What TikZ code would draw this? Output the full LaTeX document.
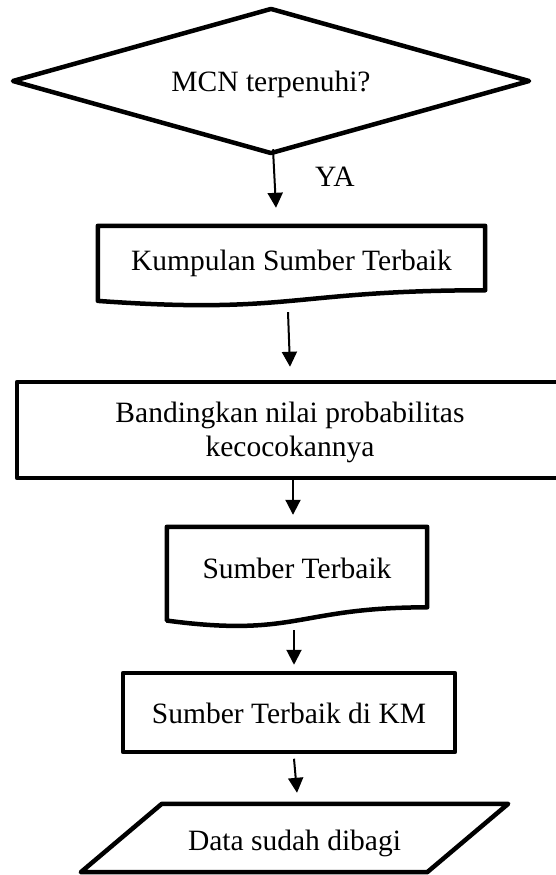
\documentclass[tikz,border=0pt]{standalone}
\usepackage{fontspec}
\setmainfont{Liberation Serif}
\usetikzlibrary{shapes.geometric,arrows.meta,calc}
\newcommand\flowfont{\fontsize{29.5}{34}\selectfont}
\begin{document}
\begin{tikzpicture}[x=1pt,y=-1pt,
  shp/.style={line width=4.5pt, line join=round},
  blk/.style={shp, draw, rectangle, inner sep=0pt, font=\flowfont, align=center},
  hold/.style={rectangle, inner sep=0pt, font=\flowfont, align=center},
  decision/.style={shp, draw, diamond, inner sep=0pt, font=\flowfont, shape aspect=3.5},
  arr/.style={line width=2pt, -{Triangle[length=15pt,width=15pt]}},
]
\useasboundingbox (0,0) rectangle (555,875);

% decision
\node[decision, minimum width=518pt, minimum height=146pt,
      text height=28pt, text depth=6pt] (mcn) at (271,81) {MCN terpenuhi?};
\node[font=\flowfont, inner sep=0pt, anchor=base west] (ya) at (315,186) {YA};

% document: collection of best sources
\node[hold, minimum width=387pt, minimum height=80pt,
      text height=14pt, text depth=6pt] (kum) at (291.5,266) {Kumpulan Sumber Terbaik};
\draw[shp] (kum.north west) -- (kum.north east)
  -- ($(kum.north east)!0.802!(kum.south east)$)
  .. controls ($(kum.north)!0.802!(kum.south)$) and ($(kum.north)!1.107!(kum.south)$)
  .. ($(kum.north west)!0.934!(kum.south west)$) -- cycle;

% process: compare probabilities
\node[blk, minimum width=546pt, minimum height=96pt] (band) at (290,430)
  {\rule{0pt}{26pt}Bandingkan nilai probabilitas\\kecocokannya};

% document: best source
\node[hold, minimum width=260pt, minimum height=100pt,
      text height=8pt, text depth=6pt] (st) at (297,577) {Sumber Terbaik};
\draw[shp] (st.north west) -- (st.north east)
  -- ($(st.north east)!0.802!(st.south east)$)
  .. controls ($(st.north)!0.802!(st.south)$) and ($(st.north)!1.107!(st.south)$)
  .. ($(st.north west)!0.934!(st.south west)$) -- cycle;

% process: best source in KM
\node[blk, minimum width=332pt, minimum height=79pt,
      text height=27pt, text depth=6pt] (km) at (289,712.5) {Sumber Terbaik di KM};

% data (parallelogram)
\node[hold, minimum width=346pt, minimum height=68pt,
      text height=30pt, text depth=6pt] (dat) at (294.5,838) {Data sudah dibagi};
\draw[shp] ($(dat.north west)+(40.5,0)$) -- ($(dat.north east)+(40.5,0)$)
  -- ($(dat.south east)+(-40.5,0)$) -- ($(dat.south west)+(-40.5,0)$) -- cycle;

% connectors
\draw[arr] ($(mcn.south)+(2,-7)$) -- ($(kum.north)+(-15.5,-18)$);
\draw[arr] ($(kum.south)+(-3.5,6)$) -- ($(band.north)+(0,-13)$);
\draw[arr] ($(band.south)+(3,0)$) -- ($(st.north)+(-4,-12)$);
\draw[arr] ($(st.south)+(-3,3)$) -- ($(km.north)+(5,-6)$);
\draw[arr] ($(km.south)+(5,4.5)$) -- ($(dat.north)+(2.5,-11)$);
\end{tikzpicture}
\end{document}
